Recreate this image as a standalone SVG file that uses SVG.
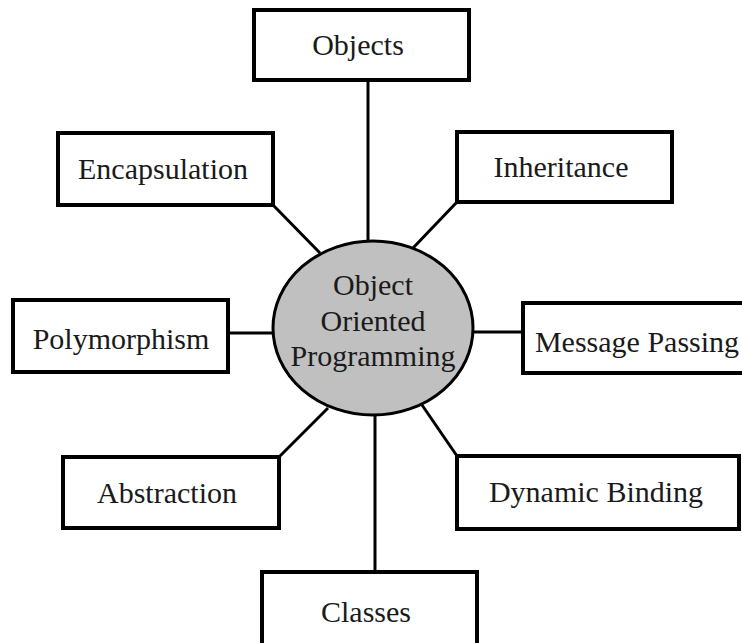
<svg xmlns="http://www.w3.org/2000/svg" width="742" height="643" viewBox="0 0 742 643">
  <style>
    .box { fill: #ffffff; stroke: #000000; stroke-width: 4; }
    .hub { fill: #c0c0c0; stroke: #000000; stroke-width: 3; }
    .link { stroke: #000000; stroke-width: 3; fill: none; }
    .label { font-family: "Liberation Serif", "Times New Roman", serif; font-size: 30px; fill: #1a1a1a; text-anchor: middle; }
  </style>
  <rect width="742" height="643" fill="#ffffff"/>

  <!-- spokes from the central concept to each feature -->
  <g id="connectors">
    <line class="link" x1="368" y1="80" x2="368" y2="241"/>
    <line class="link" x1="273" y1="205" x2="320" y2="253"/>
    <line class="link" x1="457" y1="202" x2="413" y2="248"/>
    <line class="link" x1="228" y1="333" x2="273" y2="333"/>
    <line class="link" x1="473" y1="332" x2="523" y2="332"/>
    <line class="link" x1="279" y1="457" x2="328" y2="408"/>
    <line class="link" x1="457" y1="456" x2="422" y2="405"/>
    <line class="link" x1="375" y1="415" x2="375" y2="572"/>
  </g>

  <g id="oop">
    <ellipse class="hub" cx="373" cy="328" rx="100" ry="87"/>
    <text class="label" x="373" y="295">Object</text>
    <text class="label" x="373" y="331">Oriented</text>
    <text class="label" x="373" y="366">Programming</text>
  </g>

  <g id="objects">
    <rect class="box" x="254" y="10" width="215" height="70"/>
    <text class="label" x="358" y="55">Objects</text>
  </g>

  <g id="encapsulation">
    <rect class="box" x="58" y="133" width="215" height="72"/>
    <text class="label" x="163" y="179">Encapsulation</text>
  </g>

  <g id="inheritance">
    <rect class="box" x="457" y="132" width="215" height="70"/>
    <text class="label" x="561" y="177">Inheritance</text>
  </g>

  <g id="polymorphism">
    <rect class="box" x="13" y="300" width="215" height="72"/>
    <text class="label" x="121" y="349">Polymorphism</text>
  </g>

  <g id="message-passing">
    <rect class="box" x="523" y="303" width="240" height="70"/>
    <text class="label" x="637" y="352">Message Passing</text>
  </g>

  <g id="abstraction">
    <rect class="box" x="63" y="457" width="216" height="71"/>
    <text class="label" x="167" y="503">Abstraction</text>
  </g>

  <g id="dynamic-binding">
    <rect class="box" x="457" y="456" width="282" height="73"/>
    <text class="label" x="596" y="502">Dynamic Binding</text>
  </g>

  <g id="classes">
    <rect class="box" x="262" y="572" width="215" height="80"/>
    <text class="label" x="366" y="622">Classes</text>
  </g>
</svg>
